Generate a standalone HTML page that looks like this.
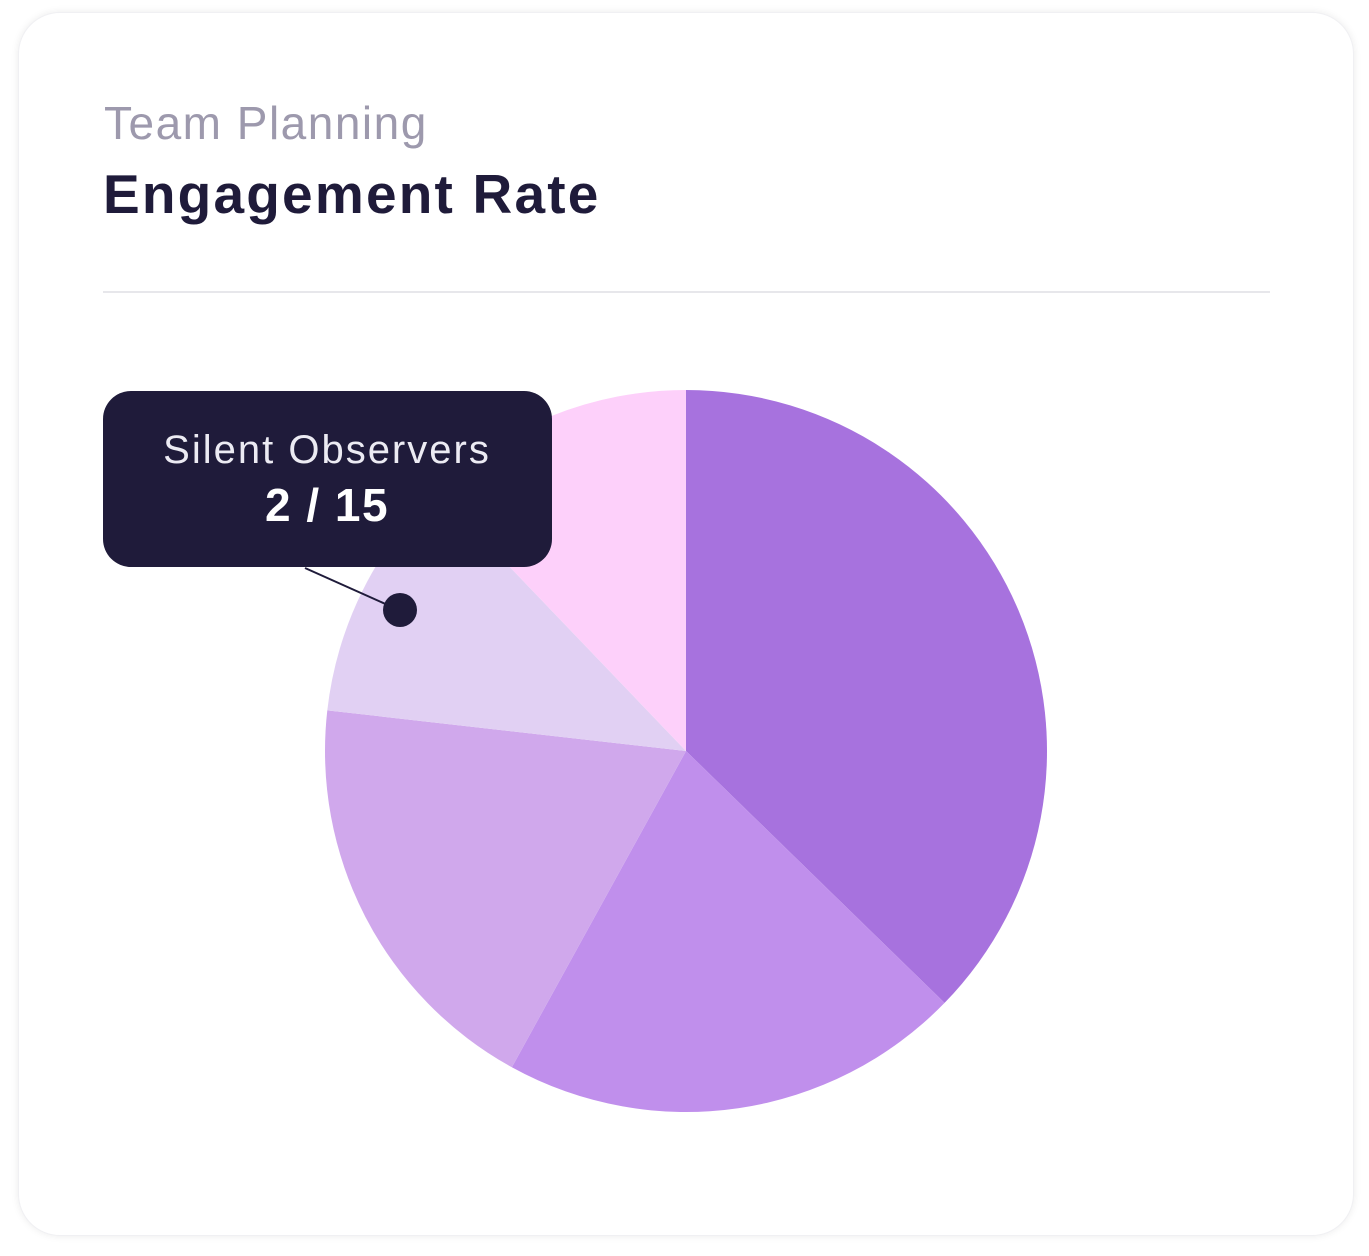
<!DOCTYPE html>
<html><head><meta charset="utf-8"><style>
html,body{margin:0;padding:0;background:#fff;width:1369px;height:1256px;overflow:hidden;font-family:"Liberation Sans",sans-serif}
.card{position:absolute;left:18px;top:12px;width:1336px;height:1224px;border-radius:42px;background:#fff;box-shadow:0 0 8px rgba(0,0,0,0.08);border:1px solid #f0f0f3;box-sizing:border-box}
.sub{position:absolute;left:104px;top:96px;font-size:46px;color:#9d99ad;letter-spacing:1.5px}
.title{position:absolute;left:103px;top:162px;font-size:55px;font-weight:bold;color:#1f1b3a;letter-spacing:2.2px}
.div{position:absolute;left:103px;top:291px;width:1167px;height:2px;background:#e7e7eb}
svg{position:absolute;left:0;top:0}
</style></head><body>
<div class="card"></div>
<div class="sub">Team Planning</div>
<div class="title">Engagement Rate</div>
<div class="div"></div>
<svg id="chart" width="1369" height="1256"></svg>
<script>
const categories=["Active Contributors","Regular Participants","Occasional Participants","Silent Observers","Absent"];
const values=[6.75,3.75,3.4,2,2.2];
const colors=["#a772de","#c08fec","#d0a8ec","#e1d0f3","#fdd0fa"];
const tooltipLabel="Silent Observers";
const tooltipValue="2 / 15";
const NS="http://www.w3.org/2000/svg";
const svg=document.getElementById('chart');
const cx=686,cy=751,r=361;
const total=values.reduce((a,b)=>a+b,0);
function pt(a){return [cx+r*Math.sin(a),cy-r*Math.cos(a)];}
let acc=0;
values.forEach((v,i)=>{
  const a0=acc/total*2*Math.PI;acc+=v;const a1=acc/total*2*Math.PI;
  const p0=pt(a0),p1=pt(a1);
  const path=document.createElementNS(NS,'path');
  path.setAttribute('d',`M${cx},${cy}L${p0[0]},${p0[1]}A${r},${r} 0 ${a1-a0>Math.PI?1:0} 1 ${p1[0]},${p1[1]}Z`);
  path.setAttribute('fill',colors[i]);
  
  
  svg.appendChild(path);
});
const g=document.createElementNS(NS,'g');


g.innerHTML=`<line x1="305" y1="568" x2="390" y2="606" stroke="#1f1b3a" stroke-width="2"/>
<circle cx="400" cy="610" r="17" fill="#1f1b3a"/>
<rect x="103" y="391" width="449" height="176" rx="28" fill="#1f1b3a"/>
<text x="327" y="463" text-anchor="middle" font-size="40" letter-spacing="2" fill="#ecebf3" font-family="Liberation Sans, sans-serif">${tooltipLabel}</text>
<text x="327" y="521" text-anchor="middle" font-size="46" letter-spacing="1.5" font-weight="bold" fill="#fff" font-family="Liberation Sans, sans-serif">${tooltipValue}</text>`;
svg.appendChild(g);
</script>
</body></html>
